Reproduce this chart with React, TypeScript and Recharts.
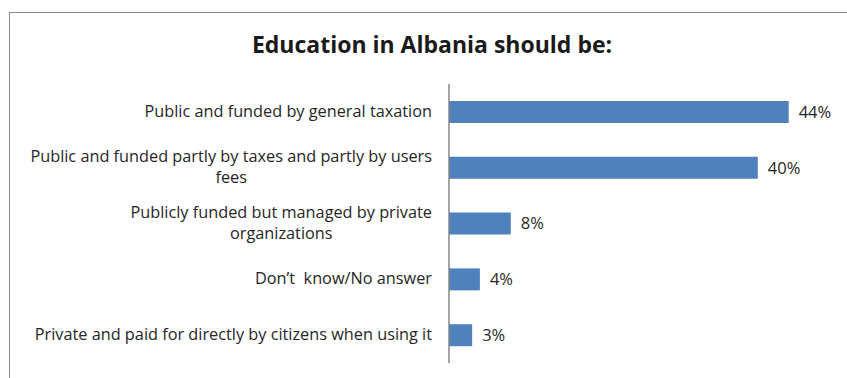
import React from 'react'
import { BarChart, Bar, XAxis, YAxis, LabelList } from 'recharts'

// line breaks follow the wrapping of the original labels
const categories = [
  'Public and funded by general taxation',
  'Public and funded partly by taxes and partly by users\nfees',
  'Publicly funded but managed by private\norganizations',
  'Don’t  know/No answer',
  'Private and paid for directly by citizens when using it',
]
const shares = [44, 40, 8, 4, 3]

const data = categories.map((name, i) => ({ name, value: shares[i] }))

const FONT = '"Open Sans", "Noto Sans", sans-serif'
const LABEL_SIZE = 16.3
const TEXT = '#262626'

let ctx: CanvasRenderingContext2D | null = null
function measure(text: string) {
  if (!ctx) ctx = document.createElement('canvas').getContext('2d')
  if (!ctx) return text.length * 7
  ctx.font = `${LABEL_SIZE}px ${FONT}`
  return ctx.measureText(text).width
}

function CategoryTick(props: any) {
  const { x, y, payload } = props
  const lines: string[] = String(payload.value).split('\n')
  const lineH = 21
  if (lines.length === 1) {
    return (
      <text x={x} y={y} dy={5} textAnchor="end" fill={TEXT} fontSize={LABEL_SIZE} fontFamily={FONT} style={{ whiteSpace: 'pre' }}>
        {lines[0]}
      </text>
    )
  }
  const block = Math.max(...lines.map(measure))
  const cx = x - block / 2
  const top = y - ((lines.length - 1) * lineH) / 2
  return (
    <text textAnchor="middle" fill={TEXT} fontSize={LABEL_SIZE} fontFamily={FONT}>
      {lines.map((l, i) => (
        <tspan key={i} x={cx} y={top + i * lineH} dy={5}>
          {l}
        </tspan>
      ))}
    </text>
  )
}

export default function App() {
  return (
    <div style={{ position: 'absolute', left: 0, top: 0, width: 847, height: 378, overflow: 'hidden', background: '#fff' }}>
      <div
        style={{
          position: 'absolute',
          left: 9,
          top: 12,
          width: 1000,
          height: 1000,
          borderLeft: '1px solid #868686',
          borderTop: '1px solid #868686',
        }}
      />
      <div
        style={{
          position: 'absolute',
          left: 0,
          width: 864,
          top: 28,
          textAlign: 'center',
          fontFamily: FONT,
          fontWeight: 'bold',
          fontSize: 23,
          color: '#1a1a1a',
          lineHeight: '32px',
        }}
      >
        Education in Albania should be:
      </div>
      <BarChart
        width={847}
        height={378}
        data={data}
        layout="vertical"
        margin={{ top: 84, right: 12, bottom: 15, left: 0 }}
        style={{ position: 'absolute', left: 0, top: 0 }}
      >
        <XAxis type="number" domain={[0, 50]} hide />
        <YAxis
          type="category"
          dataKey="name"
          width={449}
          tickLine={false}
          tickMargin={11}
          axisLine={{ stroke: '#868686', strokeWidth: 1.5 }}
          tick={<CategoryTick />}
          interval={0}
        />
        <Bar dataKey="value" fill="#4F81BD" barSize={22} isAnimationActive={false}>
          <LabelList
            dataKey="value"
            position="right"
            offset={10}
            formatter={(v: any) => `${v}%`}
            fill={TEXT}
            fontSize={16.5}
            fontFamily={FONT}
          />
        </Bar>
      </BarChart>
    </div>
  )
}
